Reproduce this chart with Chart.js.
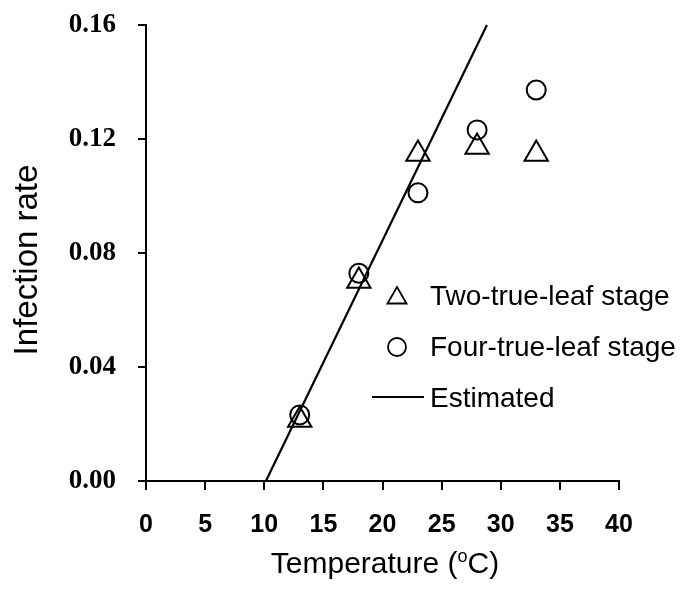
<!DOCTYPE html>
<html lang="en">
<head>
    <meta charset="UTF-8">
    <title>Infection rate vs temperature</title>
    <script src="https://cdn.jsdelivr.net/npm/chart.js@4.4.1/dist/chart.umd.min.js"></script>
    <style>
        html, body { margin: 0; padding: 0; background: #fff; }
        #wrap { width: 688px; height: 593px; position: relative; }
    </style>
</head>
<body>
    <div id="wrap"><canvas id="chart"></canvas></div>

    <script>
        // Valeurs
        const temperatures = [13, 18, 23, 28, 33];
        const twoLeaf = [0.0214, 0.0702, 0.1147, 0.1172, 0.1147];
        const fourLeaf = [0.0232, 0.0729, 0.1011, 0.1232, 0.1372];
        const estimatedX = [10.14, 28.83];
        const estimatedY = [0, 0.16];
        const xTicks = [0, 5, 10, 15, 20, 25, 30, 35, 40];
        const yTicks = [0, 0.04, 0.08, 0.12, 0.16];

        const seriesNames = ['Two-true-leaf stage', 'Four-true-leaf stage', 'Estimated'];

        const toPoints = (xs, ys) => xs.map((x, i) => ({ x: x, y: ys[i] }));

        // Legende et titres dessines a la main (legende dans la zone du graphique)
        const annotations = {
            id: 'annotations',
            afterDraw(chart) {
                const ctx = chart.ctx;
                ctx.save();
                ctx.fillStyle = '#000';
                ctx.strokeStyle = '#000';

                // legende
                ctx.font = '28px "Liberation Sans", Arial, sans-serif';
                ctx.textAlign = 'left';
                ctx.textBaseline = 'alphabetic';
                const mx = 397, tx = 430;

                ctx.lineWidth = 1.8;
                ctx.beginPath();
                const r = 11, cy = 298;
                for (let k = 0; k < 3; k++) {
                    const a = k * 2 * Math.PI / 3;
                    const px = mx + Math.sin(a) * r, py = cy - Math.cos(a) * r;
                    if (k === 0) ctx.moveTo(px, py); else ctx.lineTo(px, py);
                }
                ctx.closePath();
                ctx.stroke();
                ctx.fillText(seriesNames[0], tx, 305);

                ctx.beginPath();
                ctx.arc(mx, 347, 9, 0, Math.PI * 2);
                ctx.stroke();
                ctx.fillText(seriesNames[1], tx, 356);

                ctx.lineWidth = 2;
                ctx.beginPath();
                ctx.moveTo(372, 397);
                ctx.lineTo(424, 397);
                ctx.stroke();
                ctx.fillText(seriesNames[2], tx, 407);

                // titre axe x avec exposant
                const big = '30px "Liberation Sans", Arial, sans-serif';
                const small = '18px "Liberation Sans", Arial, sans-serif';
                const p1 = 'Temperature (', p2 = 'o', p3 = 'C)';
                ctx.font = big;
                const w1 = ctx.measureText(p1).width, w3 = ctx.measureText(p3).width;
                ctx.font = small;
                const w2 = ctx.measureText(p2).width;
                let x = 385 - (w1 + w2 + w3) / 2;
                const base = 573;
                ctx.font = big;
                ctx.fillText(p1, x, base);
                x += w1;
                ctx.font = small;
                ctx.fillText(p2, x, base - 11);
                x += w2;
                ctx.font = big;
                ctx.fillText(p3, x, base);

                // titre axe y
                ctx.translate(37, 260);
                ctx.rotate(-Math.PI / 2);
                ctx.textAlign = 'center';
                ctx.font = '33px "Liberation Sans", Arial, sans-serif';
                ctx.fillText('Infection rate', 0, 0);
                ctx.restore();
            }
        };

        new Chart(document.getElementById('chart'), {
            type: 'scatter',
            data: {
                datasets: [{
                    label: seriesNames[0],
                    data: toPoints(temperatures, twoLeaf),
                    pointStyle: 'triangle',
                    pointRadius: 13.5,
                    pointBorderWidth: 2,
                    pointBackgroundColor: 'rgba(0,0,0,0)',
                    pointBorderColor: '#000',
                    order: 2
                }, {
                    label: seriesNames[1],
                    data: toPoints(temperatures, fourLeaf),
                    pointStyle: 'circle',
                    pointRadius: 9.5,
                    pointBorderWidth: 2,
                    pointBackgroundColor: 'rgba(0,0,0,0)',
                    pointBorderColor: '#000',
                    order: 1
                }, {
                    type: 'line',
                    label: seriesNames[2],
                    data: toPoints(estimatedX, estimatedY),
                    borderColor: '#000',
                    borderWidth: 2.2,
                    pointRadius: 0,
                    fill: false,
                    clip: false,
                    order: 0
                }]
            },
            options: {
                responsive: true,
                maintainAspectRatio: false,
                animation: false,
                layout: { padding: { top: 25, right: 69, left: 0, bottom: 0 } },
                plugins: {
                    legend: { display: false },
                    tooltip: { enabled: false }
                },
                scales: {
                    x: {
                        type: 'linear',
                        min: 0,
                        max: 40,
                        afterFit: s => { s.height = 112; s.paddingLeft = 0; s.paddingRight = 0; },
                        afterBuildTicks: s => { s.ticks = xTicks.map(v => ({ value: v })); },
                        border: { display: true, color: '#000', width: 2 },
                        grid: { drawOnChartArea: false, drawTicks: true, tickLength: 9, color: '#000', lineWidth: 2 },
                        ticks: {
                            color: '#000',
                            padding: 20,
                            maxRotation: 0,
                            font: { family: '"Liberation Sans", Arial, sans-serif', size: 25, weight: 'bold' }
                        }
                    },
                    y: {
                        type: 'linear',
                        min: 0,
                        max: 0.16,
                        afterFit: s => { s.width = 146; s.paddingTop = 0; s.paddingBottom = 0; },
                        afterBuildTicks: s => { s.ticks = yTicks.map(v => ({ value: v })); },
                        border: { display: true, color: '#000', width: 2 },
                        grid: { drawOnChartArea: false, drawTicks: true, tickLength: 8, color: '#000', lineWidth: 2 },
                        ticks: {
                            color: '#000',
                            padding: 22,
                            callback: v => Number(v).toFixed(2),
                            font: { family: '"Liberation Serif", "Times New Roman", serif', size: 27, weight: 'bold' }
                        }
                    }
                }
            },
            plugins: [annotations]
        });
    </script>
</body>
</html>
